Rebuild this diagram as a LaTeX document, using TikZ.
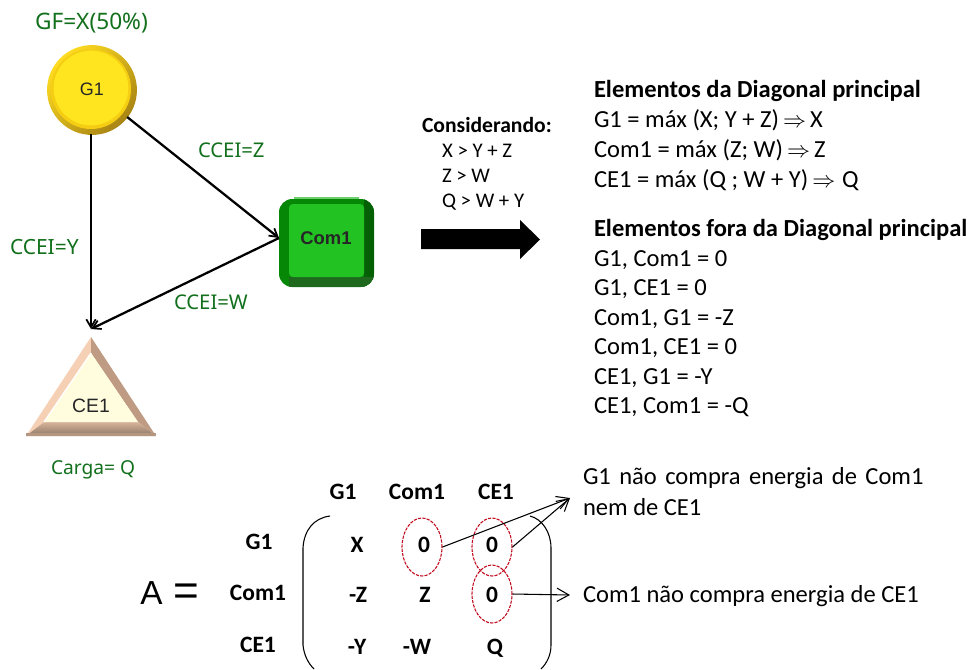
\documentclass[tikz,border=0pt]{standalone}
\usepackage{fontspec}
\setmainfont{Carlito}
\newfontfamily\greenfont{Noto Sans}
\newfontfamily\arialfont{Liberation Sans}
\usetikzlibrary{arrows.meta,shapes.geometric}
\definecolor{lblgreen}{HTML}{12701C}
\definecolor{redell}{HTML}{C00A1E}
\definecolor{goldhi}{HTML}{FFDC20}
\definecolor{goldlo}{HTML}{A88414}
\definecolor{goldmid}{HTML}{F5CE14}
\definecolor{goldin}{HTML}{FFE520}
\definecolor{gface}{HTML}{22C222}
\definecolor{gedge}{HTML}{068806}
\definecolor{gright}{HTML}{056005}
\definecolor{gbot}{HTML}{1E691E}
\definecolor{gtop}{HTML}{6CD06C}
\definecolor{tleft}{HTML}{F5D0B4}
\definecolor{tright}{HTML}{BE9B82}
\definecolor{tbot}{HTML}{8C7664}
\definecolor{tbothi}{HTML}{D7B49B}
\definecolor{tface}{HTML}{FFFDDE}
\definecolor{tbase}{HTML}{B49680}
\tikzset{
  x=0.75pt,y=-0.75pt,
  body/.style={anchor=base west,inner sep=0,outer sep=0,font=\fontsize{18.4}{22}\selectfont,text=black},
  bodyb/.style={body,font=\fontsize{18.4}{22}\selectfont\bfseries},
  small/.style={body,font=\fontsize{15.6}{18}\selectfont},
  smallb/.style={body,font=\fontsize{16.2}{18}\selectfont\bfseries},
  mat/.style={anchor=base,inner sep=0,outer sep=0,font=\fontsize{17.6}{20}\selectfont\bfseries},
  lbl/.style={anchor=base west,inner sep=0,outer sep=0,text=lblgreen,font=\greenfont\fontsize{15.2}{18}\selectfont},
  icon/.style={inner sep=0,outer sep=0,font=\arialfont\fontsize{13.5}{16}\selectfont,text=black!85},
  conn/.style={draw=black,line width=1.7pt,-{Straight Barb[length=6pt,width=7pt,line width=1.3pt]}},
  thin conn/.style={draw=black,line width=0.8pt,-{Straight Barb[length=9pt,width=10pt,line width=0.8pt]}},
  oval/.style={draw=redell,dashed,dash pattern=on 2.4pt off 0.9pt,line width=0.8pt,ellipse,inner sep=0,minimum width=30pt,minimum height=43.5pt},
}
\begin{document}
\begin{tikzpicture}
\useasboundingbox (0,0) rectangle (971,669);
% G1
\shade[left color=goldhi,right color=goldlo,shading angle=45] (92,90) circle[radius=33.7pt];
\fill[goldmid] (91,89) circle[radius=30pt];
\fill[goldin] (91,88) circle[radius=28pt];
\node[circle,minimum size=67.5pt,icon] (G1) at (92,89) {G1};
% Com1
\fill[gtop] (294,197) rectangle (359,200);
\fill[rounded corners=10pt,gedge] (279,199) rectangle (374,287);
\begin{scope}
\clip[rounded corners=10pt] (279,199) rectangle (374,287);
\fill[gright] (364,199) rectangle (374,287);
\fill[gbot] (289,277) rectangle (374,287);
\end{scope}
\fill[rounded corners=3pt,gface] (289,204) rectangle (364,277);
\node[icon,font=\arialfont\bfseries\fontsize{13.8}{16}\selectfont,minimum width=71pt,minimum height=66pt] (Com1) at (326,238) {Com1};
\coordinate (comin) at (279,238);
% CE1
\fill[tleft] (91,337) -- (26,436) -- (44,422) -- (91,353) -- cycle;
\fill[tright] (91,337) -- (156,436) -- (138,422) -- (91,353) -- cycle;
\shade[top color=tbothi,bottom color=tbot] (26,436) -- (44,422) -- (138,422) -- (156,436) -- cycle;
\fill[tbase] (26,433) rectangle (156,436);
\fill[tface] (91,353) -- (44,422) -- (138,422) -- cycle;
\draw[white,line width=1pt] (44,422) -- (91,353);
\node[icon,font=\arialfont\fontsize{14.5}{16}\selectfont] (CE1) at (91,406) {CE1};
\coordinate (cein) at (91,329);
% connectors
\draw[conn] (G1) -- (comin);
\draw[conn] (G1.south -| cein) -- (cein);
\draw[conn] (comin) -- (cein);
% green labels
\node[lbl,font=\greenfont\fontsize{17}{20}\selectfont] (lgf) at (35,29) {GF=X(50\%)};
\node[lbl] (lz) at (198,157) {CCEI=Z};
\node[lbl,font=\greenfont\fontsize{15.7}{20}\selectfont] (ly) at (10,254) {CCEI=Y};
\node[lbl] (lw) at (174,309) {CCEI=W};
\node[lbl,font=\greenfont\fontsize{14.4}{20}\selectfont] (lq) at (51,474) {Carga= Q};
% considerando
\node[smallb] (c0) at (422,132) {Considerando:};
\node[small] (c1) at (442,157) {X > Y + Z};
\node[small] (c2) at (442,182) {Z > W};
\node[small] (c3) at (442,207) {Q > W + Y};
\fill[black] (421,229) -- (520,229) -- (520,220) -- (540,239.5) -- (520,259) -- (520,249) -- (421,249) -- cycle;
% right text
\node[bodyb] (e0) at (594,97) {Elementos da Diagonal principal};
\node[body] (e1) at (594,127) {G1 = máx (X; Y + Z)\,$\Rightarrow$\,X};
\node[body] (e2) at (594,157) {Com1 = máx (Z; W)\,$\Rightarrow$\,Z};
\node[body] (e3) at (594,187) {CE1 = máx (Q ; W + Y)\,$\Rightarrow$\;Q};
\node[bodyb] (f0) at (594,236) {Elementos fora da Diagonal principal};
\node[body] (f1) at (594,266) {G1, Com1 = 0};
\node[body] (f2) at (594,295) {G1, CE1 = 0};
\node[body] (f3) at (594,325) {Com1, G1 = -Z};
\node[body] (f4) at (594,354) {Com1, CE1 = 0};
\node[body] (f5) at (594,384) {CE1, G1 = -Y};
\node[body] (f6) at (594,413) {CE1, Com1 = -Q};
% matrix
\node[mat] (hg) at (343,499) {G1};
\node[mat] (hc) at (417,499) {Com1};
\node[mat] (he) at (496,499) {CE1};
\node[mat] (rg) at (259,549) {G1};
\node[mat] (rc) at (258,600) {Com1};
\node[mat] (re) at (258,652) {CE1};
\node[mat] (m11) at (357,552) {X};
\node[mat] (m12) at (424,552) {0};
\node[mat] (m13) at (492,552) {0};
\node[mat] (m21) at (358,602) {-Z};
\node[mat] (m22) at (425,602) {Z};
\node[mat] (m23) at (492,602) {0};
\node[mat] (m31) at (357,654) {-Y};
\node[mat] (m32) at (417,654) {-W};
\node[mat] (m33) at (495,654) {Q};
\node[anchor=base west,inner sep=0,font=\arialfont\fontsize{25}{28}\selectfont] (A) at (140,604) {A\hspace{8pt}{\fontsize{33}{28}\selectfont\raisebox{-1pt}{=}}};
\draw[black,line width=0.8pt] (330,516) .. controls (314,518) and (304,530) .. (303,548) -- (303,645) .. controls (304,655) and (308,663) .. (314,669);
\draw[black,line width=0.8pt] (530,516) .. controls (542,519) and (551,532) .. (551,548) -- (551,645) .. controls (551,655) and (547,663) .. (541,669);
\node[oval] (o1) at (422,547) {};
\node[oval] (o2) at (492,547) {};
\node[oval] (o3) at (492,594) {};
\coordinate (t1) at (570,498);
\coordinate (t2) at (570,595);
\draw[thin conn] (o1.east) -- (t1);
\draw[thin conn] (o2.east) -- (t1);
\draw[thin conn] (o3.east) -- (t2);
\node[body] (n1) at (583,484) {\spaceskip=6.3pt G1 não compra energia de Com1};
\node[body] (n2) at (583,515) {nem de CE1};
\node[body] (n3) at (583,602) {Com1 não compra energia de CE1};
\end{tikzpicture}
\end{document}
